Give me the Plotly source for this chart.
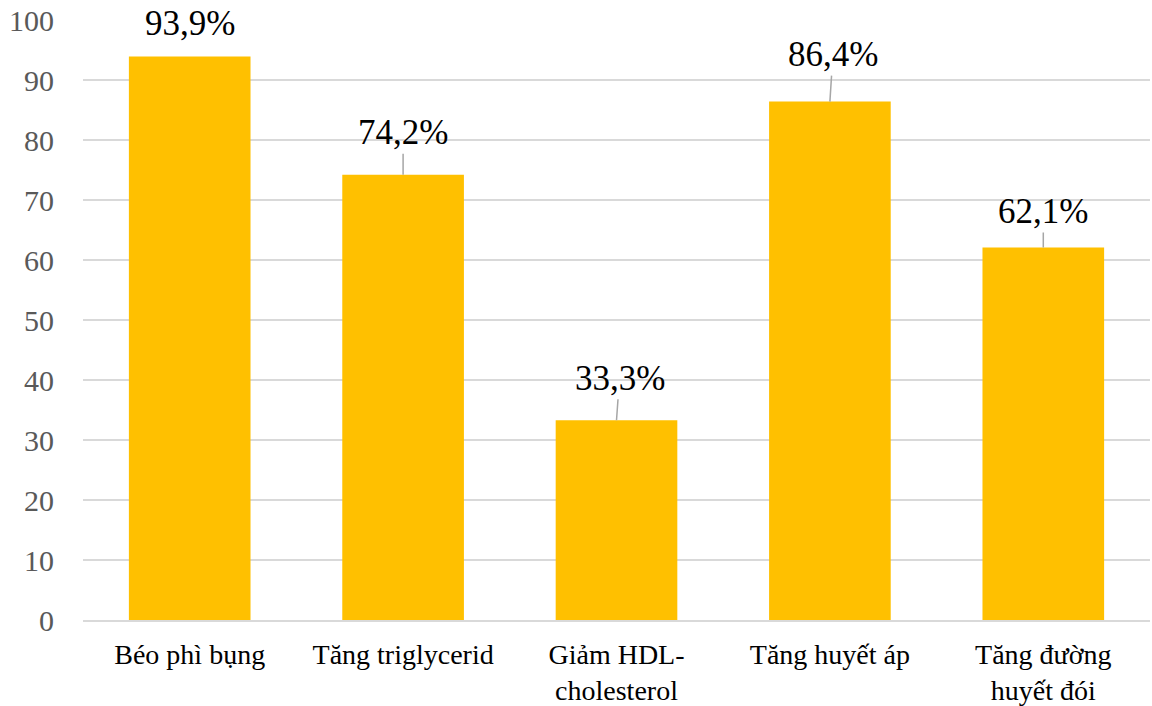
import plotly.graph_objects as go

# Metabolic syndrome components (% of patients)
categories = ["Béo phì bụng", "Tăng triglycerid", "Giảm HDL-<br>cholesterol",
              "Tăng huyết áp", "Tăng đường<br>huyết đói"]
values = [93.9, 74.2, 33.3, 86.4, 62.1]
y_ticks = [0, 10, 20, 30, 40, 50, 60, 70, 80, 90, 100]

# vertical pixel offset of each data label above its bar, and whether a leader line is drawn
label_offsets = [-33, -42, -42, -47, -36]
label_dx = [0, 0, 3, 3, 0]
leader = [False, True, True, True, True]

BAR = "#FFC000"
GRID = "#D9D9D9"
SERIF = "Liberation Serif"

fig = go.Figure(go.Bar(
    x=categories, y=values,
    marker=dict(color=BAR, line=dict(width=0)),
    hoverinfo="skip",
))

for cat, v, dy, dx, ld in zip(categories, values, label_offsets, label_dx, leader):
    txt = f"{v:.1f}".replace(".", ",") + "%"
    if ld:
        fig.add_annotation(
            x=cat, y=v, text=txt, showarrow=True, arrowhead=0,
            arrowwidth=1.5, arrowcolor="#A6A6A6", ax=dx, ay=dy,
            standoff=0, startstandoff=0,
            font=dict(family=SERIF, size=35, color="#000000"),
        )
    else:
        fig.add_annotation(
            x=cat, y=v, text=txt, showarrow=False, yshift=-dy,
            font=dict(family=SERIF, size=35, color="#000000"),
        )

fig.update_layout(
    width=1152, height=706,
    margin=dict(l=83, r=2, t=20, b=86),
    paper_bgcolor="white", plot_bgcolor="white",
    bargap=0.43, showlegend=False,
    font=dict(family=SERIF),
)
fig.update_yaxes(
    range=[0, 100], tickvals=y_ticks, showgrid=True, gridcolor=GRID,
    gridwidth=2, zeroline=False, showline=False, ticks="",
    tickfont=dict(family=SERIF, size=30, color="#595959"),
    ticklabelstandoff=28, automargin=False,
)
fig.update_xaxes(
    showline=True, linecolor=GRID, linewidth=2, ticks="",
    tickfont=dict(family=SERIF, size=28, color="#000000"),
    ticklabelstandoff=8, tickangle=0, automargin=False,
)

fig.write_html("out.html")
